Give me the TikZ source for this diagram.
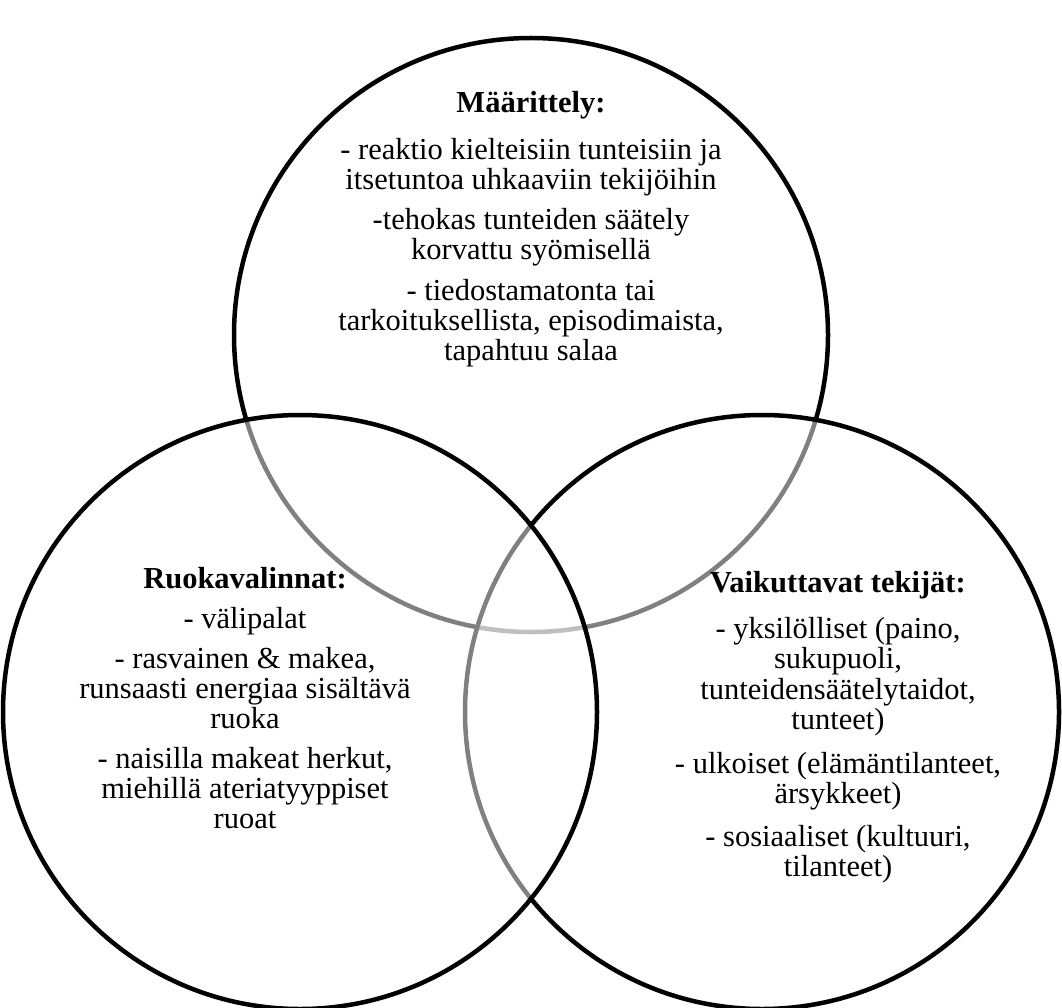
\documentclass[tikz,border=0pt]{standalone}
\usepackage{fontspec}
\setmainfont{Liberation Serif}
\begin{document}
\begin{tikzpicture}[x=1pt,y=-1pt,
  vc/.style={circle,draw=black,line width=4.5pt,fill=white,fill opacity=0.5,inner sep=0pt,outer sep=0pt,minimum size=594pt},
  txt/.style={anchor=base,inner sep=0pt,font=\fontsize{30.5}{31}\selectfont},
  ttl/.style={txt,font=\fontsize{30.5}{31}\selectfont\bfseries}]
\useasboundingbox (0,0) rectangle (1062,1008);
\clip (0,0) rectangle (1062,1008);
% circles: drawn top, right, left
\node[vc] (ctop) at (531,335) {};
\node[vc] (cright) at (762,712) {};
\node[vc] (cleft) at (300,712) {};
% top text
\node[ttl] (t0) at (531,113) {Määrittely:};
\node[txt] (t1) at (531,160) {- reaktio kielteisiin tunteisiin ja};
\node[txt] (t2) at (531,190) {itsetuntoa uhkaaviin tekijöihin};
\node[txt] (t3) at (531,230) {-tehokas tunteiden säätely};
\node[txt] (t4) at (531,260) {korvattu syömisellä};
\node[txt] (t5) at (531,300) {- tiedostamatonta tai};
\node[txt] (t6) at (531,330) {tarkoituksellista, episodimaista,};
\node[txt] (t7) at (531,360) {tapahtuu salaa};
% left text
\node[ttl] (l0) at (245,588) {Ruokavalinnat:};
\node[txt] (l1) at (245,628) {- välipalat};
\node[txt] (l2) at (245,668) {- rasvainen \& makea,};
\node[txt] (l3) at (245,698) {runsaasti energiaa sisältävä};
\node[txt] (l4) at (245,728) {ruoka};
\node[txt] (l5) at (245,768) {- naisilla makeat herkut,};
\node[txt] (l6) at (245,798) {miehillä ateriatyyppiset};
\node[txt] (l7) at (245,828) {ruoat};
% right text
\node[ttl] (r0) at (838,592) {Vaikuttavat tekijät:};
\node[txt] (r1) at (838,638) {- yksilölliset (paino,};
\node[txt] (r2) at (838,668) {sukupuoli,};
\node[txt] (r3) at (838,699) {tunteidensäätelytaidot,};
\node[txt] (r4) at (838,729) {tunteet)};
\node[txt] (r5) at (838,773) {- ulkoiset (elämäntilanteet,};
\node[txt] (r6) at (838,803) {ärsykkeet)};
\node[txt] (r7) at (838,846) {- sosiaaliset (kultuuri,};
\node[txt] (r8) at (838,876) {tilanteet)};
\end{tikzpicture}
\end{document}
